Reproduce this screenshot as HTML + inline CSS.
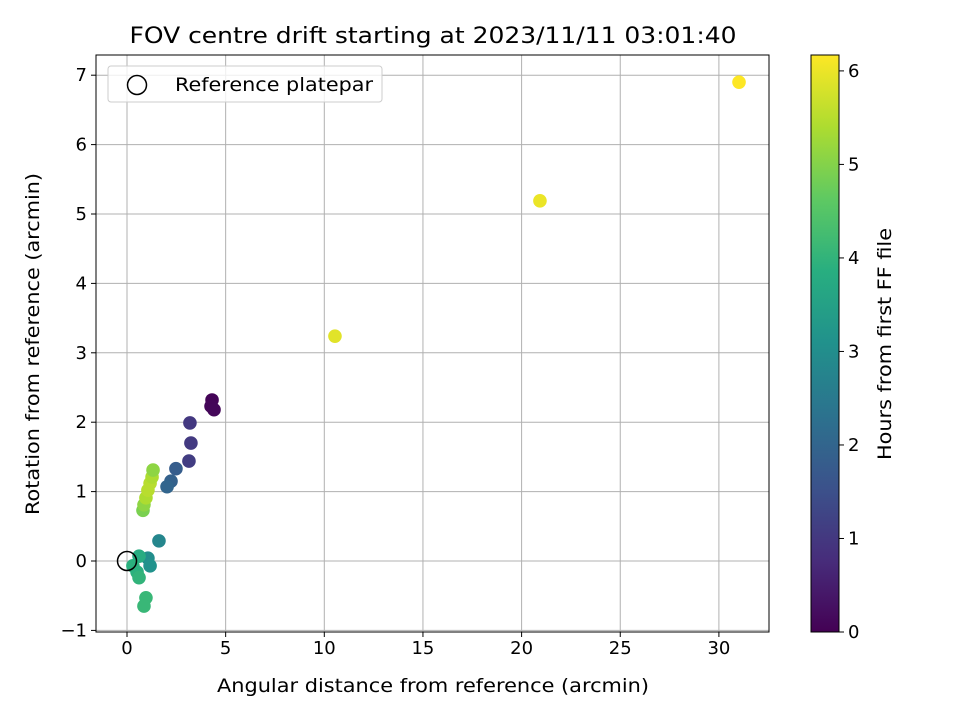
<!DOCTYPE html>
<html><head><meta charset="utf-8"><style>
body{margin:0;background:#fff;font-family:"DejaVu Sans","Liberation Sans",sans-serif}
</style></head><body>
<svg width="960" height="720" xmlns="http://www.w3.org/2000/svg" font-family="DejaVu Sans, Liberation Sans, sans-serif">
<defs><linearGradient id="vir" x1="0" y1="1" x2="0" y2="0">
<stop offset="0" stop-color="#440154"/><stop offset="0.125" stop-color="#472d7b"/><stop offset="0.25" stop-color="#3b528b"/><stop offset="0.375" stop-color="#2c728e"/><stop offset="0.5" stop-color="#21918c"/><stop offset="0.625" stop-color="#28ae80"/><stop offset="0.75" stop-color="#5ec962"/><stop offset="0.875" stop-color="#addc30"/><stop offset="1" stop-color="#fde725"/></linearGradient></defs>
<g id="grid"></g>
<g id="pts"></g>
<g id="axes"></g>
<text x="433" y="43" text-anchor="middle" font-size="22" textLength="607" lengthAdjust="spacingAndGlyphs">FOV centre drift starting at 2023/11/11 03:01:40</text>
<text x="433" y="692" text-anchor="middle" font-size="19" textLength="432" lengthAdjust="spacingAndGlyphs">Angular distance from reference (arcmin)</text>
<text transform="translate(39,344) rotate(-90)" text-anchor="middle" font-size="19" textLength="342" lengthAdjust="spacingAndGlyphs">Rotation from reference (arcmin)</text>
<g>
<rect x="108" y="66" width="274" height="36" rx="3" fill="#fff" fill-opacity="0.8" stroke="#ccc"/>
<circle cx="137" cy="85" r="9.5" fill="none" stroke="#000" stroke-width="1.5"/>
<text x="175" y="91" font-size="19" textLength="198" lengthAdjust="spacingAndGlyphs">Reference platepar</text>
</g>
<rect x="811" y="55" width="28" height="577" fill="url(#vir)" stroke="#000" stroke-width="1"/>
<g id="cbt"></g>
<text transform="translate(891,344) rotate(-90)" text-anchor="middle" font-size="19" textLength="232" lengthAdjust="spacingAndGlyphs">Hours from first FF file</text>
</svg>
<script>
const xs=[4.31,4.26,4.41,3.19,3.24,3.14,2.48,2.23,2.03,1.62,1.06,1.17,0.61,0.30,0.51,0.61,0.96,0.86,0.81,0.86,0.96,1.06,1.17,1.27,1.32,10.54,20.93,31.02];
const ys=[2.32,2.23,2.18,1.99,1.70,1.44,1.33,1.15,1.07,0.29,0.04,-0.07,0.07,-0.07,-0.16,-0.24,-0.53,-0.65,0.73,0.81,0.91,1.02,1.12,1.21,1.31,3.24,5.19,6.90];
const ts=[0.05,0.08,0.1,1.0,1.05,1.1,1.8,1.9,2.0,2.8,3.0,3.1,3.8,3.9,3.9,4.0,4.1,4.1,4.9,5.1,5.4,5.5,5.5,5.4,5.1,5.9,6.0,6.17];
const xTicks=[0,5,10,15,20,25,30];
const yTicks=[-1,0,1,2,3,4,5,6,7];
const cTicks=[0,1,2,3,4,5,6];
const L=96,R=769,T=55,B=632,tMax=6.17;
const X=v=>127+v*19.73, Y=v=>561-v*69.4, C=v=>632-v*(577/tMax);
const ns="http://www.w3.org/2000/svg";
function mk(tag,a,p){const e=document.createElementNS(ns,tag);for(const k in a)e.setAttribute(k,a[k]);p.appendChild(e);return e;}
const vir=[[68,1,84],[71,45,123],[59,82,139],[44,114,142],[33,145,140],[40,174,128],[94,201,98],[173,220,48],[253,231,37]];
function col(t){let f=Math.max(0,Math.min(1,t/tMax))*(vir.length-1);let i=Math.min(Math.floor(f),vir.length-2);let r=f-i;const a=vir[i],b=vir[i+1];return `rgb(${a.map((v,k)=>Math.round(v+(b[k]-v)*r)).join(',')})`;}
const g=document.getElementById('grid'),ax=document.getElementById('axes'),pts=document.getElementById('pts'),cb=document.getElementById('cbt');
xTicks.forEach(v=>{const x=X(v);
const l=mk('line',{x1:x,x2:x,y1:T,y2:B,stroke:'#b0b0b0','stroke-width':1},g);
mk('line',{x1:x,x2:x,y1:B,y2:B+5,stroke:'#000'},ax);
const t=mk('text',{x:x,y:B+22,'text-anchor':'middle','font-size':18},ax);t.textContent=v;});
yTicks.forEach(v=>{const y=Y(v);
const l=mk('line',{x1:L,x2:R,y1:y,y2:y,stroke:'#b0b0b0','stroke-width':1},g);
mk('line',{x1:L-5,x2:L,y1:y,y2:y,stroke:'#000'},ax);
const t=mk('text',{x:L-9,y:y+6,'text-anchor':'end','font-size':18},ax);t.textContent=v<0?'\u22121':v;});
mk('rect',{x:L,y:T,width:R-L,height:B-T,fill:'none',stroke:'#000','stroke-width':1},ax);
xs.forEach((v,i)=>{const c=mk('circle',{cx:X(v),cy:Y(ys[i]),r:6.8,fill:col(ts[i])},pts);});
const ref=mk('circle',{cx:X(0),cy:Y(0),r:9.5,fill:'none',stroke:'#000','stroke-width':1.5},pts);
cTicks.forEach(v=>{const y=C(v);mk('line',{x1:839,x2:844,y1:y,y2:y,stroke:'#000'},cb);
const t=mk('text',{x:848,y:y+6,'font-size':18},cb);t.textContent=v;});
</script>
</body></html>
